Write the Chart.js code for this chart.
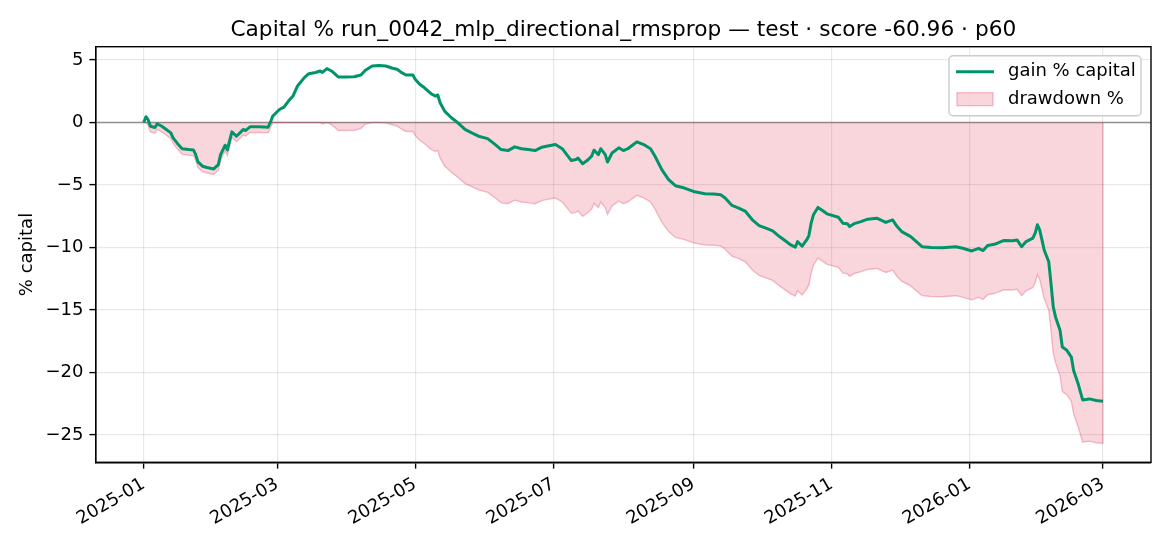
<!DOCTYPE html>
<html>
<head>
<meta charset="utf-8">
<title>Capital % run_0042</title>
<script src="https://cdn.jsdelivr.net/npm/chart.js@4.4.1/dist/chart.umd.min.js"></script>
<style>
  html, body { margin: 0; padding: 0; background: #fff; }
  #wrap { width: 1170px; height: 546px; }
  canvas { display: block; }
</style>
</head>
<body>
<div id="wrap"><canvas id="chart-capital" width="1170" height="546" style="width:1170px;height:546px"></canvas></div>
<script>
/* Capital % chart – gain vs drawdown, matplotlib look */

const TITLE = 'Capital % run_0042_mlp_directional_rmsprop \u2014 test \u00b7 score -60.96 \u00b7 p60';
const Y_LABEL = '% capital';

// x positions: days since 2025-01-01
const DAYS = [
  0, 1, 2, 3, 5, 6, 8, 10, 12, 13, 15, 17, 20, 22, 23, 24, 26, 28, 31, 33,
  34, 36, 37, 38, 39, 41, 43, 44, 45, 47, 51, 55, 56, 57, 60, 62, 64, 66, 68, 71,
  73, 76, 78, 79, 81, 83, 86, 89, 93, 96, 98, 101, 104, 107, 110, 112, 114, 116, 119, 120,
  122, 124, 127, 129, 130, 131, 133, 136, 138, 140, 142, 145, 148, 152, 155, 158, 161, 164, 167, 170,
  173, 176, 178, 182, 185, 187, 189, 191, 192, 194, 196, 198, 199, 201, 202, 204, 205, 207, 210, 212,
  214, 216, 218, 221, 224, 226, 229, 232, 235, 239, 243, 248, 252, 255, 257, 259, 260, 263, 266, 269,
  272, 275, 278, 281, 284, 286, 288, 289, 291, 293, 294, 295, 296, 298, 300, 302, 307, 309, 311, 312,
  314, 317, 320, 324, 328, 331, 333, 335, 339, 344, 348, 353, 359, 362, 366, 369, 371, 373, 376, 380,
  384, 386, 388, 390, 393, 394, 395, 396, 398, 400, 401, 402, 403, 405, 406, 408, 410, 411, 413, 415,
  418, 421, 424
];

// gain % capital
const GAIN = [
  0, 0.46, 0.2, -0.3, -0.4, -0.1, -0.3, -0.56, -0.83, -1.23, -1.7, -2.1, -2.17, -2.2, -2.57, -3.16, -3.5, -3.6, -3.72, -3.37,
  -2.57, -1.82, -2.2, -1.45, -0.75, -1.1, -0.75, -0.56, -0.65, -0.35, -0.35, -0.38, 0, 0.5, 1.04, 1.23, 1.71, 2.11, 2.92, 3.59,
  3.9, 4.0, 4.12, 4.0, 4.31, 4.12, 3.64, 3.64, 3.66, 3.8, 4.18, 4.52, 4.55, 4.52, 4.34, 4.26, 3.99, 3.8, 3.8, 3.45,
  3.05, 2.79, 2.3, 2.11, 2.2, 1.58, 0.91, 0.38, 0.1, -0.22, -0.56, -0.83, -1.1, -1.29, -1.71, -2.17, -2.25, -1.95, -2.1, -2.17,
  -2.25, -1.98, -1.9, -1.77, -2.1, -2.57, -3.05, -2.97, -2.85, -3.3, -3.05, -2.7, -2.22, -2.57, -2.1, -2.57, -3.16, -2.44, -2.03, -2.25,
  -2.1, -1.82, -1.55, -1.77, -2.1, -2.7, -3.78, -4.58, -5.06, -5.25, -5.52, -5.7, -5.72, -5.78, -6.05, -6.45, -6.64, -6.85, -7.12, -7.79,
  -8.25, -8.46, -8.67, -9.13, -9.53, -9.8, -9.98, -9.53, -9.9, -9.4, -9.05, -8.06, -7.39, -6.8, -7.04, -7.31, -7.58, -8.06, -8.1, -8.33,
  -8.1, -7.93, -7.74, -7.66, -8.0, -7.8, -8.33, -8.73, -9.13, -9.94, -10.0, -10.02, -9.94, -10.07, -10.28, -10.07, -10.25, -9.85, -9.75, -9.45,
  -9.46, -9.4, -9.94, -9.53, -9.26, -8.86, -8.19, -8.59, -10.2, -11.14, -12.88, -14.75, -15.56, -16.63, -17.97, -18.23, -18.77, -19.84, -20.91, -22.2,
  -22.12, -22.25, -22.3
];

// drawdown % (lower edge of the pink band)
const DRAWDOWN = [
  0, 0, -0.26, -0.76, -0.86, -0.56, -0.76, -1.02, -1.29, -1.68, -2.15, -2.55, -2.62, -2.65, -3.02, -3.61, -3.94, -4.04, -4.16, -3.81,
  -3.02, -2.27, -2.64, -1.9, -1.2, -1.55, -1.2, -1.01, -1.1, -0.8, -0.8, -0.83, -0.46, 0, 0, 0, 0, 0, 0, 0,
  0, 0, 0, -0.12, 0, -0.18, -0.64, -0.64, -0.62, -0.49, -0.13, 0, 0, -0.03, -0.2, -0.28, -0.54, -0.72, -0.72, -1.05,
  -1.43, -1.68, -2.15, -2.33, -2.24, -2.84, -3.48, -3.99, -4.26, -4.56, -4.89, -5.14, -5.4, -5.59, -5.99, -6.43, -6.5, -6.22, -6.36, -6.43,
  -6.5, -6.25, -6.17, -6.05, -6.36, -6.81, -7.27, -7.19, -7.08, -7.51, -7.27, -6.94, -6.48, -6.81, -6.36, -6.81, -7.37, -6.68, -6.29, -6.5,
  -6.36, -6.09, -5.83, -6.04, -6.36, -6.94, -7.97, -8.73, -9.19, -9.37, -9.63, -9.8, -9.82, -9.88, -10.14, -10.52, -10.7, -10.9, -11.16, -11.8,
  -12.24, -12.44, -12.64, -13.08, -13.46, -13.72, -13.89, -13.46, -13.81, -13.34, -13.0, -12.06, -11.42, -10.86, -11.09, -11.35, -11.6, -12.06, -12.1, -12.32,
  -12.1, -11.94, -11.76, -11.68, -12.0, -11.81, -12.32, -12.7, -13.08, -13.86, -13.92, -13.94, -13.86, -13.99, -14.19, -13.99, -14.16, -13.78, -13.69, -13.4,
  -13.41, -13.34, -13.86, -13.47, -13.2, -12.82, -12.18, -12.56, -14.1, -15.0, -16.66, -18.45, -19.22, -20.25, -21.53, -21.78, -22.3, -23.32, -24.35, -25.58,
  -25.5, -25.63, -25.68
];

// axis ticks
const X_TICK_DAYS = [0, 59, 120, 181, 243, 304, 365, 424];
const X_TICK_LABELS = ['2025-01', '2025-03', '2025-05', '2025-07', '2025-09', '2025-11', '2026-01', '2026-03'];
const Y_TICKS = [-25, -20, -15, -10, -5, 0, 5];

const GREEN = '#00946a';
const DD_FILL = 'rgba(220, 20, 60, 0.18)';
const DD_EDGE = 'rgba(220, 20, 60, 0.25)';
const FONT = '"DejaVu Sans", "Liberation Sans", sans-serif';
const FS = 18;          // 10pt at 130 dpi
const FS_TITLE = 21.7;  // 12pt at 130 dpi

Chart.defaults.font.family = FONT;
Chart.defaults.color = '#000';

// matplotlib-style 5% margins around the data
const xMinData = Math.min(...DAYS), xMaxData = Math.max(...DAYS);
const yMinData = Math.min(...DRAWDOWN, ...GAIN), yMaxData = Math.max(...GAIN, ...DRAWDOWN);
const xPad = (xMaxData - xMinData) * 0.05;
const yPad = (yMaxData - yMinData) * 0.05;

const fmtMinus = v => (v < 0 ? '\u2212' + Math.abs(v) : String(v));

// spines, zero line, title, y label and legend drawn like matplotlib
const mplDecor = {
  id: 'mplDecor',
  beforeDatasetsDraw(chart) {
    const { ctx, chartArea: a, scales: { y } } = chart;
    const y0 = y.getPixelForValue(0);
    ctx.save();
    ctx.strokeStyle = 'rgba(128,128,128,0.85)';
    ctx.lineWidth = 1.4;
    ctx.beginPath();
    ctx.moveTo(a.left, y0);
    ctx.lineTo(a.right, y0);
    ctx.stroke();
    ctx.restore();
  },
  afterDatasetsDraw(chart) {
    // closing edge of the drawdown band at the last sample
    const { ctx, scales: { x, y } } = chart;
    const n = DAYS.length - 1;
    const px = x.getPixelForValue(DAYS[n]);
    ctx.save();
    ctx.strokeStyle = DD_EDGE;
    ctx.lineWidth = 1.4;
    ctx.beginPath();
    ctx.moveTo(px, y.getPixelForValue(0));
    ctx.lineTo(px, y.getPixelForValue(DRAWDOWN[n]));
    ctx.stroke();
    ctx.restore();
  },
  afterDraw(chart) {
    const { ctx, chartArea: a } = chart;
    ctx.save();
    // spines
    ctx.strokeStyle = '#000';
    ctx.lineWidth = 1.4;
    ctx.strokeRect(a.left, a.top, a.right - a.left, a.bottom - a.top);

    // title
    ctx.fillStyle = '#000';
    ctx.font = FS_TITLE + 'px ' + FONT;
    ctx.textAlign = 'center';
    ctx.textBaseline = 'alphabetic';
    ctx.fillText(TITLE, (a.left + a.right) / 2, 35.5);

    // y label
    ctx.save();
    ctx.translate(27, (a.top + a.bottom) / 2);
    ctx.rotate(-Math.PI / 2);
    ctx.font = FS + 'px ' + FONT;
    ctx.textBaseline = 'middle';
    ctx.fillText(Y_LABEL, 0, 0);
    ctx.restore();

    // legend
    const bx = a.right - 202, by = a.top + 9, bw = 192, bh = 60, r = 4;
    ctx.fillStyle = 'rgba(255,255,255,0.8)';
    ctx.strokeStyle = '#cccccc';
    ctx.lineWidth = 1.4;
    ctx.beginPath();
    ctx.roundRect(bx, by, bw, bh, r);
    ctx.fill();
    ctx.stroke();

    ctx.strokeStyle = GREEN;
    ctx.lineWidth = 3;
    ctx.beginPath();
    ctx.moveTo(bx + 7, by + 16);
    ctx.lineTo(bx + 45, by + 16);
    ctx.stroke();

    ctx.fillStyle = DD_FILL;
    ctx.strokeStyle = DD_EDGE;
    ctx.lineWidth = 1.4;
    ctx.fillRect(bx + 8, by + 37, 36, 13);
    ctx.strokeRect(bx + 8, by + 37, 36, 13);

    ctx.fillStyle = '#000';
    ctx.font = FS + 'px ' + FONT;
    ctx.textAlign = 'left';
    ctx.textBaseline = 'middle';
    ctx.fillText('gain % capital', bx + 59, by + 16);
    ctx.fillText('drawdown %', bx + 59, by + 43.5);
    ctx.restore();
  },
};

function buildCapitalChart() {
  const ctx = document.getElementById('chart-capital').getContext('2d');
  const gainPts = DAYS.map((d, i) => ({ x: d, y: GAIN[i] }));
  const ddPts = DAYS.map((d, i) => ({ x: d, y: DRAWDOWN[i] }));

  new Chart(ctx, {
    type: 'line',
    data: {
      datasets: [
        {
          label: 'gain % capital',
          data: gainPts,
          borderColor: GREEN,
          borderWidth: 3,
          borderJoinStyle: 'round',
          pointRadius: 0,
          tension: 0,
          fill: false,
        },
        {
          label: 'drawdown %',
          data: ddPts,
          borderColor: DD_EDGE,
          backgroundColor: DD_FILL,
          borderWidth: 1.4,
          pointRadius: 0,
          tension: 0,
          fill: 'origin',
        },
      ],
    },
    options: {
      responsive: false,
      animation: false,
      layout: { padding: { left: 0, top: 46.7, right: 19, bottom: 0 } },
      plugins: {
        legend: { display: false },
        title: { display: false },
        tooltip: { enabled: false },
      },
      scales: {
        x: {
          type: 'linear',
          min: xMinData - xPad,
          max: xMaxData + xPad,
          afterBuildTicks: s => { s.ticks = X_TICK_DAYS.map(v => ({ value: v })); },
          afterFit: s => { s.height = 83.7; },
          ticks: {
            autoSkip: false,
            minRotation: 30,
            maxRotation: 30,
            padding: 5,
            font: { size: FS },
            color: '#000',
            callback: v => X_TICK_LABELS[X_TICK_DAYS.indexOf(v)] || '',
          },
          grid: { color: 'rgba(0,0,0,0.09)', tickColor: '#000', tickLength: 6.3, lineWidth: 1.2, tickWidth: 1.4 },
          border: { display: true, color: '#000', width: 1.4 },
        },
        y: {
          type: 'linear',
          min: yMinData - yPad,
          max: yMaxData + yPad,
          afterBuildTicks: s => { s.ticks = Y_TICKS.map(v => ({ value: v })); },
          afterFit: s => { s.width = 95.7; },
          ticks: {
            padding: 6,
            font: { size: FS },
            color: '#000',
            callback: v => fmtMinus(v),
          },
          grid: { color: 'rgba(0,0,0,0.09)', tickColor: '#000', tickLength: 6.3, lineWidth: 1.2, tickWidth: 1.4 },
          border: { display: true, color: '#000', width: 1.4 },
        },
      },
    },
    plugins: [mplDecor],
  });
}

document.addEventListener('DOMContentLoaded', buildCapitalChart);
</script>
</body>
</html>
